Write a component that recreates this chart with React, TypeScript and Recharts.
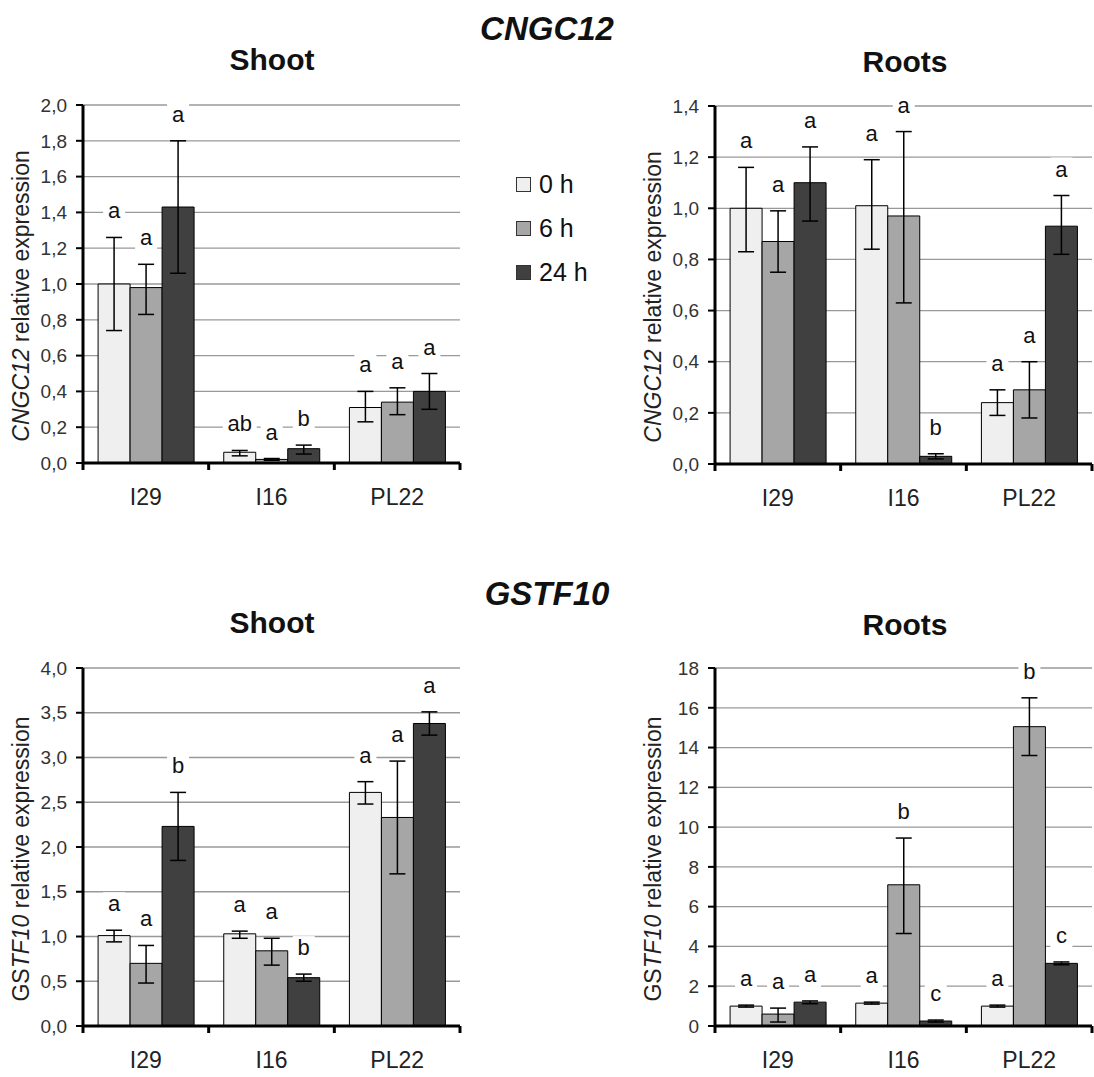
import React from "react";
import { BarChart, Bar, XAxis, YAxis, CartesianGrid, ErrorBar, LabelList } from "recharts";

const lines = ["I29", "I16", "PL22"];
const times = ["0 h", "6 h", "24 h"];
const fills = ["#efefef", "#a6a6a6", "#404040"];

// rows = time point (0 h, 6 h, 24 h), columns = I29, I16, PL22
const cngcShootMean = [[1.0, 0.06, 0.31], [0.98, 0.02, 0.34], [1.43, 0.08, 0.4]];
const cngcShootLow = [[0.74, 0.04, 0.23], [0.83, 0.015, 0.27], [1.06, 0.05, 0.3]];
const cngcShootHigh = [[1.26, 0.07, 0.4], [1.11, 0.025, 0.42], [1.8, 0.1, 0.5]];
const cngcShootLetters = [["a", "ab", "a"], ["a", "a", "a"], ["a", "b", "a"]];

const cngcRootMean = [[1.0, 1.01, 0.24], [0.87, 0.97, 0.29], [1.1, 0.03, 0.93]];
const cngcRootLow = [[0.83, 0.84, 0.19], [0.75, 0.63, 0.18], [0.95, 0.02, 0.82]];
const cngcRootHigh = [[1.16, 1.19, 0.29], [0.99, 1.3, 0.4], [1.24, 0.04, 1.05]];
const cngcRootLetters = [["a", "a", "a"], ["a", "a", "a"], ["a", "b", "a"]];

const gstShootMean = [[1.01, 1.03, 2.61], [0.7, 0.84, 2.33], [2.23, 0.54, 3.38]];
const gstShootLow = [[0.94, 0.98, 2.48], [0.48, 0.68, 1.7], [1.85, 0.5, 3.25]];
const gstShootHigh = [[1.07, 1.06, 2.73], [0.9, 0.98, 2.96], [2.61, 0.58, 3.51]];
const gstShootLetters = [["a", "a", "a"], ["a", "a", "a"], ["b", "b", "a"]];

const gstRootMean = [[1.0, 1.15, 1.0], [0.6, 7.1, 15.05], [1.2, 0.25, 3.15]];
const gstRootLow = [[0.95, 1.1, 0.95], [0.2, 4.65, 13.6], [1.12, 0.2, 3.08]];
const gstRootHigh = [[1.05, 1.2, 1.05], [0.9, 9.45, 16.5], [1.26, 0.3, 3.22]];
const gstRootLetters = [["a", "a", "a"], ["a", "b", "b"], ["a", "c", "c"]];

const cngcShootTicks = [0, 0.2, 0.4, 0.6, 0.8, 1.0, 1.2, 1.4, 1.6, 1.8, 2.0];
const cngcRootTicks = [0, 0.2, 0.4, 0.6, 0.8, 1.0, 1.2, 1.4];
const gstShootTicks = [0, 0.5, 1.0, 1.5, 2.0, 2.5, 3.0, 3.5, 4.0];
const gstRootTicks = [0, 2, 4, 6, 8, 10, 12, 14, 16, 18];

const FONT = "'Liberation Sans', Arial, sans-serif";
const PLOT_H = 358;
const PLOT_W = 377;

const buildRows = (mean: number[][], low: number[][], high: number[][]) =>
  lines.map((line, i) => {
    const row: any = { line };
    times.forEach((_, s) => {
      row[`v${s}`] = mean[s][i];
      row[`e${s}`] = [mean[s][i] - low[s][i], high[s][i] - mean[s][i]];
    });
    return row;
  });

const CatTick = (props: any) => {
  const { x, y, payload, index } = props;
  const bw = PLOT_W / 3;
  return (
    <g>
      <line x1={x - bw / 2} x2={x - bw / 2} y1={y} y2={y + 7} stroke="#000" strokeWidth={3} />
      {index === 2 && <line x1={x + bw / 2} x2={x + bw / 2} y1={y} y2={y + 7} stroke="#000" strokeWidth={3} />}
      <text x={x} y={y + 42} textAnchor="middle" fontSize={23} fill="#222" fontFamily={FONT}>
        {payload.value}
      </text>
    </g>
  );
};

type PanelProps = {
  left: number;
  top: number;
  width: number;
  mean: number[][];
  low: number[][];
  high: number[][];
  letters: string[][];
  ticks: number[];
  decimals: boolean;
  gene: "CNGC12" | "GSTF10";
};

function Panel({ left, top, width, mean, low, high, letters, ticks, decimals, gene }: PanelProps) {
  const data = buildRows(mean, low, high);
  const yMax = ticks[ticks.length - 1];
  const ppu = PLOT_H / yMax;

  const letterContent = (s: number) => (p: any) => {
    const { x, y, width: w, height: h, index } = p;
    if (index == null) return null;
    const base = Number(y) + Number(h);
    const cy = base - high[s][index] * ppu - 26;
    const txt = letters[s][index];
    const bw = 10 + txt.length * 12;
    return (
      <g>
        <rect x={x + w / 2 - bw / 2} y={cy - 12} width={bw} height={24} fill="#fff" />
        <text x={x + w / 2} y={cy + 7} textAnchor="middle" fontSize={22} fill="#111" fontFamily={FONT}>
          {txt}
        </text>
      </g>
    );
  };

  const yLabel = ({ viewBox }: any) => {
    const cx = viewBox.x + 21;
    const cy = viewBox.y + viewBox.height / 2 + 12;
    return (
      <text
        x={cx}
        y={cy}
        transform={`rotate(-90 ${cx} ${cy})`}
        textAnchor="middle"
        dominantBaseline="central"
        fontSize={23}
        fill="#222"
        fontFamily={FONT}
      >
        {gene === "CNGC12" ? (
          <tspan fontStyle="italic">CNGC12</tspan>
        ) : (
          <>
            <tspan>GS</tspan>
            <tspan fontStyle="italic">TF10</tspan>
          </>
        )}
        <tspan> relative expression</tspan>
      </text>
    );
  };

  return (
    <div style={{ position: "absolute", left, top }}>
      <BarChart
        width={width}
        height={15 + PLOT_H + 50}
        data={data}
        margin={{ top: 15, right: width - 83 - PLOT_W, bottom: 0, left: 0 }}
        barCategoryGap="12%"
        barGap={0}
      >
        <CartesianGrid vertical={false} stroke="#999" strokeWidth={1.3} />
        <XAxis
          dataKey="line"
          height={50}
          tickSize={0}
          tickMargin={0}
          tickLine={false}
          axisLine={{ stroke: "#000", strokeWidth: 3 }}
          tick={<CatTick />}
          interval={0}
        />
        <YAxis
          width={83}
          domain={[0, yMax]}
          ticks={ticks}
          interval={0}
          tickSize={7}
          tickMargin={9}
          tickFormatter={(v: number) => (decimals ? v.toFixed(1).replace(".", ",") : String(v))}
          tick={{ fontSize: 19, fill: "#333", fontFamily: FONT }}
          tickLine={{ stroke: "#000", strokeWidth: 2 }}
          axisLine={{ stroke: "#000", strokeWidth: 3 }}
          label={{ content: yLabel }}
        />
        {times.map((t, s) => (
          <Bar key={t} dataKey={`v${s}`} name={t} fill={fills[s]} stroke="#000" strokeWidth={1} isAnimationActive={false}>
            <ErrorBar dataKey={`e${s}`} width={8} stroke="#000" strokeWidth={1.5} direction="y" />
            <LabelList dataKey={`v${s}`} content={letterContent(s)} />
          </Bar>
        ))}
      </BarChart>
    </div>
  );
}

const titleStyle = (x: number, y: number, size: number, italic: boolean): React.CSSProperties => ({
  position: "absolute",
  left: x - 150,
  top: y - size * 0.6,
  width: 300,
  textAlign: "center",
  fontFamily: FONT,
  fontWeight: "bold",
  fontStyle: italic ? "italic" : "normal",
  fontSize: size,
  lineHeight: `${size * 1.2}px`,
  color: "#111",
});

export default function App() {
  return (
    <div style={{ position: "absolute", left: 0, top: 0, width: 1094, height: 1077, overflow: "hidden", background: "#fff" }}>
      <div style={titleStyle(547, 29, 33, true)}>CNGC12</div>
      <div style={titleStyle(272, 60, 30, false)}>Shoot</div>
      <div style={titleStyle(905, 62, 30, false)}>Roots</div>
      <div style={titleStyle(547, 594, 33, true)}>GSTF10</div>
      <div style={titleStyle(272, 623, 30, false)}>Shoot</div>
      <div style={titleStyle(905, 625, 30, false)}>Roots</div>

      {times.map((t, s) => (
        <div key={t} style={{ position: "absolute", left: 516, top: 184 + s * 44 - 15, height: 30, display: "flex", alignItems: "center" }}>
          <div style={{ width: 13, height: 13, background: fills[s], border: "1px solid #333" }} />
          <div style={{ marginLeft: 8, fontFamily: FONT, fontSize: 25, color: "#111" }}>{t}</div>
        </div>
      ))}

      <Panel left={0} top={90} width={470} mean={cngcShootMean} low={cngcShootLow} high={cngcShootHigh} letters={cngcShootLetters} ticks={cngcShootTicks} decimals gene="CNGC12" />
      <Panel left={632} top={91} width={462} mean={cngcRootMean} low={cngcRootLow} high={cngcRootHigh} letters={cngcRootLetters} ticks={cngcRootTicks} decimals gene="CNGC12" />
      <Panel left={0} top={653} width={470} mean={gstShootMean} low={gstShootLow} high={gstShootHigh} letters={gstShootLetters} ticks={gstShootTicks} decimals gene="GSTF10" />
      <Panel left={632} top={653} width={462} mean={gstRootMean} low={gstRootLow} high={gstRootHigh} letters={gstRootLetters} ticks={gstRootTicks} decimals={false} gene="GSTF10" />
    </div>
  );
}
